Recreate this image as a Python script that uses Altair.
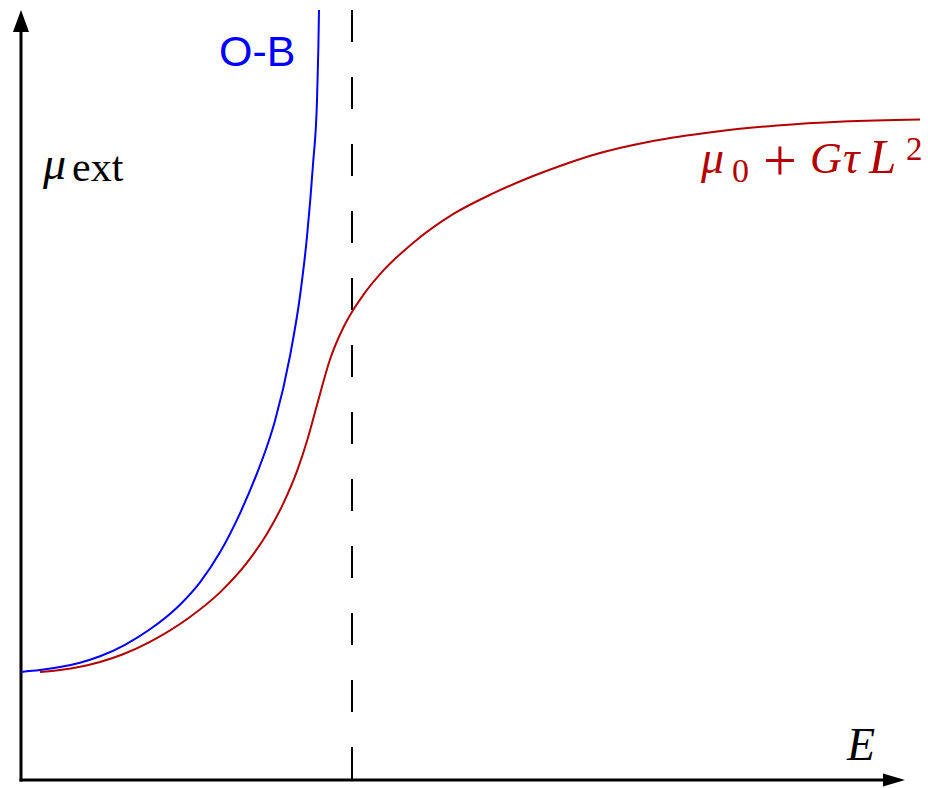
import altair as alt
import pandas as pd

# Overbeck-like divergence (O-B) versus the saturating curve mu0 + G tau L^2
blue_E = [0.00, 0.19, 0.39, 0.59, 0.79, 1.04, 1.29, 1.59, 1.79, 1.99, 2.19, 2.36,
          2.46, 2.54, 2.69, 2.79, 2.86, 2.92, 2.96, 2.973, 2.98]
blue_mu = [1.08, 1.099, 1.129, 1.173, 1.237, 1.352, 1.507, 1.753, 1.977, 2.277, 2.667,
           3.067, 3.337, 3.593, 4.24, 4.84, 5.435, 6.155, 6.795, 7.295, 7.70]

red_E = [0.19, 0.39, 0.59, 0.79, 1.02, 1.29, 1.69, 1.99, 2.26, 2.46, 2.62, 2.76,
         2.86, 2.96, 3.09, 3.22, 3.32, 3.42, 3.62, 3.92, 4.32, 4.72, 5.06, 5.39,
         5.72, 6.32, 6.92, 7.56, 8.22, 8.99]
red_mu = [1.08, 1.10, 1.132, 1.18, 1.258, 1.382, 1.63, 1.876, 2.173, 2.463, 2.759,
          3.088, 3.39, 3.75, 4.205, 4.517, 4.697, 4.847, 5.091, 5.37, 5.658, 5.866,
          6.015, 6.14, 6.25, 6.39, 6.48, 6.545, 6.585, 6.605]

critical_E = 3.31          # dashed vertical marker
axis_top = 7.70            # tip of the vertical arrow
axis_right = 8.84          # tip of the horizontal arrow

BLUE = "#0000ff"
RED = "#b30000"
SERIF = "Liberation Serif"

xs = alt.Scale(domain=[-0.21, 9.07], nice=False, zero=False)
ys = alt.Scale(domain=[-0.08, 7.80], nice=False, zero=False)

blue_df = pd.DataFrame({"E": blue_E, "mu": blue_mu})
red_df = pd.DataFrame({"E": red_E, "mu": red_mu})

X = alt.X("E:Q", scale=xs, axis=None)
Y = alt.Y("mu:Q", scale=ys, axis=None)

# axes drawn as plain rules with arrow heads
yaxis = alt.Chart(pd.DataFrame({"E": [0.0], "mu": [0.0], "mu2": [axis_top - 0.15]})).mark_rule(
    strokeWidth=3, color="black", strokeCap="square"
).encode(x=X, y=Y, y2="mu2:Q")

xaxis = alt.Chart(pd.DataFrame({"E": [0.0], "E2": [axis_right - 0.15], "mu": [0.0]})).mark_rule(
    strokeWidth=3, color="black", strokeCap="square"
).encode(x=X, x2="E2:Q", y=Y)

up_arrow = alt.Chart(pd.DataFrame({"E": [0.0], "mu": [axis_top]})).mark_point(
    shape="M0,0 L0.73,2 L-0.73,2 Z", size=484, filled=True, color="black", opacity=1, strokeWidth=0
).encode(x=X, y=Y)

right_arrow = alt.Chart(pd.DataFrame({"E": [axis_right], "mu": [0.0]})).mark_point(
    shape="M0,0 L-2,-0.6 L-2,0.6 Z", size=484, filled=True, color="black", opacity=1, strokeWidth=0
).encode(x=X, y=Y)

dashed = alt.Chart(pd.DataFrame({"E": [critical_E], "mu": [axis_top], "mu2": [0.0]})).mark_rule(
    strokeWidth=2, color="black", strokeDash=[32, 35]
).encode(x=X, y=Y, y2="mu2:Q")

red_line = alt.Chart(red_df).mark_line(color=RED, strokeWidth=2, interpolate="monotone").encode(
    x=X, y=Y, order="E:Q"
)
blue_line = alt.Chart(blue_df).mark_line(color=BLUE, strokeWidth=2, interpolate="monotone").encode(
    x=X, y=Y, order="E:Q"
)

anchor = pd.DataFrame({"k": [0]})


def label(txt, x, y, size, color="black", font=SERIF, style="normal"):
    return alt.Chart(anchor).mark_text(
        text=txt, align="left", baseline="alphabetic", font=font,
        fontSize=size, fontStyle=style, color=color
    ).encode(x=alt.value(x), y=alt.value(y))


texts = [
    label("O-B", 219, 66, 43, color=BLUE, font="Liberation Sans"),
    label("μ", 43, 179, 46, style="italic"),
    label("ext", 72, 181, 42),
    label("E", 847, 760, 46, style="italic"),
    label("μ", 701, 173, 46, color=RED, style="italic"),
    label("0", 732, 182, 34, color=RED),
    label("+", 763, 180, 60, color=RED),
    label("G", 810, 173, 44, color=RED, style="italic"),
    label("τ", 843, 173, 46, color=RED, style="italic"),
    label("L", 869, 173, 49, color=RED, style="italic"),
    label("2", 906, 160, 33, color=RED),
]

chart = alt.layer(
    yaxis, xaxis, up_arrow, right_arrow, dashed, red_line, blue_line, *texts
).properties(
    width=928, height=788, padding=0, autosize=alt.AutoSizeParams(type="none"),
    background="white"
).configure_view(stroke=None)

chart.save("out.html", embed_options={"renderer": "svg", "actions": False})
